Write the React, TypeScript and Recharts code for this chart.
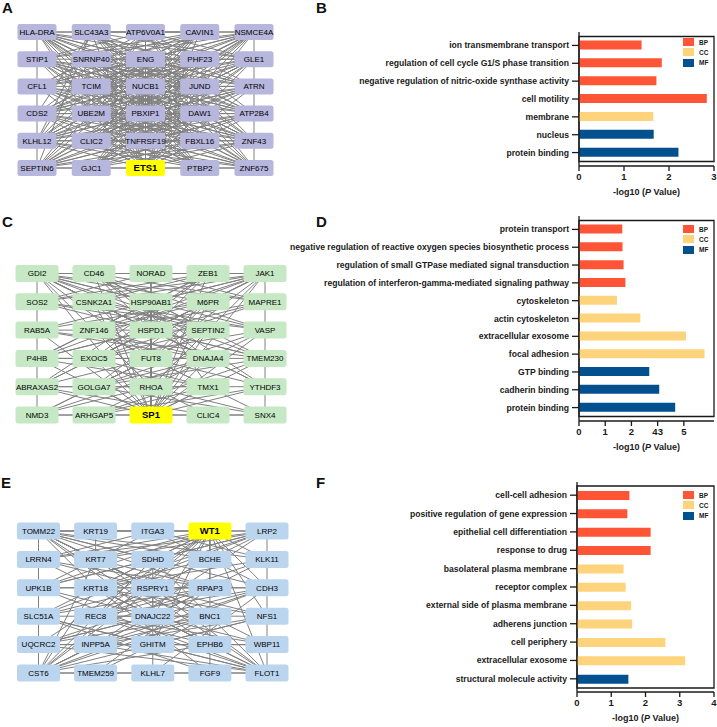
import { ScatterChart, Scatter, XAxis, YAxis, ReferenceLine, ReferenceArea, BarChart, Bar, Cell } from "recharts";

const COLORS: Record<string, string> = { BP: "#ff5436", CC: "#fdd37b", MF: "#02508e" };
const GROUPS = ["BP", "CC", "MF"];

// network A (ETS1)
const genesA = [
  "HLA-DRA", "SLC43A3", "ATP6V0A1", "CAVIN1", "NSMCE4A",
  "STIP1", "SNRNP40", "ENG", "PHF23", "GLE1",
  "CFL1", "TCIM", "NUCB1", "JUND", "ATRN",
  "CDS2", "UBE2M", "PBXIP1", "DAW1", "ATP2B4",
  "KLHL12", "CLIC2", "TNFRSF19", "FBXL16", "ZNF43",
  "SEPTIN6", "GJC1", "ETS1", "PTBP2", "ZNF675",
];
const edgesA = `0-4 0-25 4-29 25-29 0-1 1-2 2-3 3-4 25-26 26-27 27-28 28-29
27-0 27-1 27-2 27-3 27-4 27-5 27-6 27-7 27-8 27-9 27-10 27-11 27-12 27-13 27-14 27-15 27-16 27-17 27-18 27-19 27-20 27-21 27-22 27-23 27-24
0-7 0-8 0-9 0-12 0-13 0-14 0-16 0-17 0-18 0-19 0-22 0-23 0-24 0-28 0-29
1-3 1-9 1-13 1-14 1-15 1-18 1-19 1-20 1-23 1-24 1-25 1-28 1-29
2-5 2-9 2-10 2-14 2-15 2-16 2-18 2-19 2-20 2-24 2-25 2-29
3-5 3-6 3-10 3-11 3-12 3-15 3-16 3-20 3-21 3-25 3-26
4-5 4-6 4-7 4-10 4-11 4-12 4-15 4-16 4-17 4-20 4-21 4-22 4-25 4-26
5-9 5-12 5-13 5-14 5-18 5-19 5-22 5-23 5-24 5-28 5-29
6-9 6-10 6-13 6-14 6-18 6-19 6-20 6-23 6-24 6-28 6-29
7-10 7-11 7-14 7-15 7-16 7-19 7-20 7-24 7-25 7-29
8-10 8-11 8-12 8-15 8-16 8-17 8-20 8-21 8-25 8-26
9-10 9-11 9-15 9-16 9-17 9-20 9-21 9-22 9-25 9-26
10-14 10-18 10-19 10-23 10-24 10-28 10-29
11-14 11-18 11-19 11-23 11-24 11-28 11-29
12-15 12-16 12-18 12-19 12-20 12-24
13-15 13-16 13-20 13-21 13-25 13-26
14-15 14-16 14-17 14-20 14-21 14-25 14-26
15-18 15-19 15-23 15-24 15-28 15-29
16-19 16-23 16-24 16-28 16-29
17-20 17-21 17-23 17-24
18-20 18-21 18-25 18-26
19-20 19-21 19-22 19-25 19-26
20-23 20-24 20-28 20-29
21-24 21-28 21-29
22-25 22-29 23-25 23-26 24-25 24-26`;

// network C (SP1)
const genesC = [
  "GDI2", "CD46", "NORAD", "ZEB1", "JAK1",
  "SOS2", "CSNK2A1", "HSP90AB1", "M6PR", "MAPRE1",
  "RAB5A", "ZNF146", "HSPD1", "SEPTIN2", "VASP",
  "P4HB", "EXOC5", "FUT8", "DNAJA4", "TMEM230",
  "ABRAXAS2", "GOLGA7", "RHOA", "TMX1", "YTHDF3",
  "NMD3", "ARHGAP5", "SP1", "CLIC4", "SNX4",
];
const edgesC = `0-4 0-25 4-29 25-29 0-1 1-2 2-3 3-4 25-26 26-27 27-28 28-29
27-0 27-1 27-2 27-3 27-4 27-6 27-7 27-8 27-10 27-12 27-13 27-14 27-15 27-16 27-17 27-18 27-19 27-20 27-21 27-22 27-23 27-24
0-6 0-7 0-8 0-9 0-12 0-13 0-14 0-17 0-18 0-19 0-22 0-24
4-5 4-6 4-7 4-10 4-11 4-12 4-15 4-16 4-17 4-20 4-22
1-7 1-9 1-12 1-13 1-14 1-18 1-24
3-5 3-6 3-11 3-12 3-15 3-16 3-20
2-5 2-9 2-12 2-17
5-13 5-14 5-19 6-13 6-14 6-17 6-18 7-12 7-15 7-19 7-22 7-23 8-10 8-11 8-16 8-17 8-21
9-11 9-15 9-16 10-13 10-18 10-19 11-17 11-18 11-22 11-23 12-15 12-19 12-20 12-22 12-24
13-16 13-21 13-22 13-25 14-16 14-21 14-26 15-18 15-19 15-23 16-23 16-28 17-20 17-24
17-25 17-29 18-21 18-25 19-21 19-26 20-23 20-24 20-28 21-29 22-25 22-29 23-26 24-26`;

// network E (WT1)
const genesE = [
  "TOMM22", "KRT19", "ITGA3", "WT1", "LRP2",
  "LRRN4", "KRT7", "SDHD", "BCHE", "KLK11",
  "UPK1B", "KRT18", "RSPRY1", "RPAP3", "CDH3",
  "SLC51A", "REC8", "DNAJC22", "BNC1", "NFS1",
  "UQCRC2", "INPP5A", "GHITM", "EPHB6", "WBP11",
  "CST6", "TMEM259", "KLHL7", "FGF9", "FLOT1",
];
const edgesE = `0-4 0-25 4-29 25-29 0-1 1-2 2-3 3-4 25-26 26-27 27-28 28-29 1-6 0-5
3-0 3-5 3-6 3-7 3-8 3-9 3-10 3-11 3-12 3-13 3-14 3-16 3-17 3-19 3-20 3-22 3-25 3-28 3-29
0-6 0-7 0-8 0-9 0-11 0-12 0-13 0-14 0-17 0-18 0-23 0-24
4-5 4-6 4-7 4-10 4-11 4-15 4-16 4-21
25-6 25-7 25-11 25-12 25-13 25-14 25-17 25-18 25-19 25-21 25-23
29-5 29-6 29-7 29-10 29-11 29-12 29-15 29-16 29-20 29-21 29-22
2-5 2-9 2-10 2-14
5-12 5-13 6-12 6-13 6-18 7-10 7-12 7-15 7-16 8-11 8-16 9-11 9-16 9-17 10-11 10-13 10-17
11-14 11-18 11-19 11-23 12-14 12-15 12-17 12-19 13-15 13-16 13-20 14-16 14-20 14-21
15-18 15-22 16-19 16-23 16-24 17-20 17-24 18-20 18-21 19-21 19-22 20-23 20-24 21-24 22-24
26-13 26-18 27-12 27-14 28-11 28-15`;

// GO panel B
const termsB = [
  "ion transmembrane transport",
  "regulation of cell cycle G1/S phase transition",
  "negative regulation of nitric-oxide synthase activity",
  "cell motility",
  "membrane",
  "nucleus",
  "protein binding",
];
const valuesB = [1.39, 1.84, 1.72, 2.84, 1.65, 1.66, 2.21];
const groupsB = ["BP", "BP", "BP", "BP", "CC", "MF", "MF"];
const ticksB = [0, 1, 2, 3];
const tickLabelsB = ["0", "1", "2", "3"];

// GO panel D
const termsD = [
  "protein transport",
  "negative regulation of reactive oxygen species biosynthetic process",
  "regulation of small GTPase mediated signal transduction",
  "regulation of interferon-gamma-mediated signaling pathway",
  "cytoskeleton",
  "actin cytoskeleton",
  "extracellular exosome",
  "focal adhesion",
  "GTP binding",
  "cadherin binding",
  "protein binding",
];
const valuesD = [1.65, 1.66, 1.7, 1.77, 1.45, 2.34, 4.08, 4.79, 2.68, 3.06, 3.67];
const groupsD = ["BP", "BP", "BP", "BP", "CC", "CC", "CC", "CC", "MF", "MF", "MF"];
const ticksD = [0, 1, 2, 3, 4];
const tickLabelsD = ["0", "1", "2", "43", "5"];

// GO panel F
const termsF = [
  "cell-cell adhesion",
  "positive regulation of gene expression",
  "epithelial cell differentiation",
  "response to drug",
  "basolateral plasma membrane",
  "receptor complex",
  "external side of plasma membrane",
  "adherens junction",
  "cell periphery",
  "extracellular exosome",
  "structural molecule activity",
];
const valuesF = [1.53, 1.47, 2.15, 2.15, 1.36, 1.42, 1.58, 1.61, 2.58, 3.16, 1.5];
const groupsF = ["BP", "BP", "BP", "BP", "CC", "CC", "CC", "CC", "CC", "CC", "MF"];
const ticksF = [0, 1, 2, 3, 4];
const tickLabelsF = ["0", "1", "2", "3", "4"];

const INK = "#1a1a1a";

type NetProps = {
  genes: string[];
  hub: string;
  edges: string;
  fill: string;
  left: number;
  top: number;
  width: number;
  height: number;
  margin: { top: number; right: number; bottom: number; left: number };
  boxW: number;
  boxH: number;
};

function Network({ genes, hub, edges, fill, left, top, width, height, margin, boxW, boxH }: NetProps) {
  const nodes = genes.map((name, i) => ({ col: i % 5, row: Math.floor(i / 5), name }));
  const links = edges.trim().split(/\s+/).map((s) => s.split("-").map(Number));
  const axes = [
    <XAxis key="x" type="number" dataKey="col" domain={[0, 4]} hide />,
    <YAxis key="y" type="number" dataKey="row" domain={[0, 5]} reversed hide />,
  ];
  // edges in one chart, node boxes in a second chart laid on top of it
  return (
    <>
      <div style={{ position: "absolute", left, top }}>
        <ScatterChart width={width} height={height} margin={margin}>
          {axes}
          <Scatter data={nodes} isAnimationActive={false} shape={() => <g />} />
          {links.map(([a, b], k) => (
            <ReferenceLine
              key={k}
              segment={[
                { x: nodes[a].col, y: nodes[a].row },
                { x: nodes[b].col, y: nodes[b].row },
              ]}
              stroke="#808080"
              strokeWidth={1}
            />
          ))}
        </ScatterChart>
      </div>
      <div style={{ position: "absolute", left, top }}>
        <ScatterChart width={width} height={height} margin={margin}>
          {axes}
          <Scatter
            data={nodes}
            isAnimationActive={false}
            shape={(p: any) => {
              const isHub = p.payload.name === hub;
              return (
                <g>
                  <rect
                    x={p.cx - boxW / 2}
                    y={p.cy - boxH / 2}
                    width={boxW}
                    height={boxH}
                    rx={2.5}
                    fill={isHub ? "#ffff00" : fill}
                  />
                  <text
                    x={p.cx}
                    y={p.cy}
                    dy="0.36em"
                    textAnchor="middle"
                    fontSize={isHub ? 9.5 : 8}
                    fontWeight={isHub ? 700 : 400}
                    fill="#000"
                  >
                    {p.payload.name}
                  </text>
                </g>
              );
            }}
          />
        </ScatterChart>
      </div>
    </>
  );
}

type GoProps = {
  terms: string[];
  values: number[];
  groups: string[];
  ticks: number[];
  tickLabels: string[];
  xMax: number;
  top: number;
  height: number;
  marginTop: number;
  yWidth: number;
  xHeight: number;
  pad: number;
  legendTop: number;
};

const GO_LEFT = 250;
const GO_WIDTH = 717 - GO_LEFT;

function GoChart(props: GoProps) {
  const { terms, values, groups, ticks, tickLabels, xMax, top, height, marginTop, yWidth, xHeight, pad, legendTop } = props;
  const data = terms.map((term, i) => ({ term, value: values[i], group: groups[i] }));
  return (
    <div style={{ position: "absolute", left: GO_LEFT, top, width: GO_WIDTH, height }}>
      <BarChart
        layout="vertical"
        width={GO_WIDTH}
        height={height}
        data={data}
        margin={{ top: marginTop, right: 3, left: 0, bottom: 0 }}
      >
        <XAxis
          type="number"
          domain={[0, xMax]}
          ticks={ticks}
          tickFormatter={(v: number) => tickLabels[ticks.indexOf(v)]}
          height={xHeight}
          axisLine={{ stroke: INK, strokeWidth: 1.3 }}
          tickLine={{ stroke: INK, strokeWidth: 1.3 }}
          tickSize={5}
          tick={{ fontSize: 9.5, fontWeight: 700, fill: INK }}
          label={(lp: any) => {
            const vb = lp.viewBox || {};
            return (
              <text
                x={(vb.x ?? 0) + (vb.width ?? 0) / 2}
                y={(vb.y ?? 0) + 29}
                textAnchor="middle"
                fontSize={9}
                fontWeight={700}
                fill={INK}
              >
                -log10 (<tspan fontStyle="italic">P</tspan> Value)
              </text>
            );
          }}
        />
        <YAxis
          type="category"
          dataKey="term"
          width={yWidth}
          interval={0}
          tickSize={7}
          padding={{ top: pad, bottom: pad }}
          axisLine={{ stroke: INK, strokeWidth: 1.3 }}
          tickLine={{ stroke: INK, strokeWidth: 1.3 }}
          tick={(tp: any) => (
            <text
              x={tp.x - 1}
              y={tp.y}
              dy="0.35em"
              textAnchor="end"
              fontSize={8.6}
              fontWeight={700}
              fill={INK}
            >
              {tp.payload.value}
            </text>
          )}
        />
        <ReferenceArea x1={0} x2={xMax} fill="none" stroke={INK} strokeWidth={1.3} />
        <Bar dataKey="value" barSize={9} isAnimationActive={false}>
          {data.map((d, i) => (
            <Cell key={i} fill={COLORS[d.group]} />
          ))}
        </Bar>
      </BarChart>
      <div style={{ position: "absolute", left: 683 - GO_LEFT, top: legendTop }}>
        {GROUPS.map((g) => (
          <div key={g} style={{ display: "flex", alignItems: "center", height: 10.3 }}>
            <div style={{ width: 11, height: 8, background: COLORS[g] }} />
            <span style={{ marginLeft: 5, fontSize: 6.5, fontWeight: 700, color: INK }}>{g}</span>
          </div>
        ))}
      </div>
    </div>
  );
}

const letterStyle = {
  position: "absolute" as const,
  fontSize: 15,
  lineHeight: "15px",
  fontWeight: 700,
  color: "#111",
};

export default function App() {
  return (
    <div
      style={{
        position: "absolute",
        left: 0,
        top: 0,
        width: 717,
        height: 727,
        background: "#fff",
        fontFamily: '"Liberation Sans", Arial, sans-serif',
        overflow: "hidden",
      }}
    >
      <Network
        genes={genesA}
        hub="ETS1"
        edges={edgesA}
        fill="#b7b6dc"
        left={0}
        top={0}
        width={290}
        height={200}
        margin={{ top: 32, right: 36, bottom: 32, left: 37 }}
        boxW={39}
        boxH={16}
      />
      <Network
        genes={genesC}
        hub="SP1"
        edges={edgesC}
        fill="#c6e8c4"
        left={0}
        top={230}
        width={290}
        height={210}
        margin={{ top: 43.5, right: 25, bottom: 25, left: 37 }}
        boxW={43}
        boxH={17}
      />
      <Network
        genes={genesE}
        hub="WT1"
        edges={edgesE}
        fill="#bcd5ee"
        left={0}
        top={470}
        width={290}
        height={230}
        margin={{ top: 61, right: 23, bottom: 27, left: 38.5 }}
        boxW={43}
        boxH={17}
      />
      <GoChart
        terms={termsB}
        values={valuesB}
        groups={groupsB}
        ticks={ticksB}
        tickLabels={tickLabelsB}
        xMax={3}
        top={0}
        height={210}
        marginTop={32}
        yWidth={579 - GO_LEFT}
        xHeight={44}
        pad={4.5}
        legendTop={37}
      />
      <GoChart
        terms={termsD}
        values={valuesD}
        groups={groupsD}
        ticks={ticksD}
        tickLabels={tickLabelsD}
        xMax={5.15}
        top={205}
        height={260}
        marginTop={11}
        yWidth={579 - GO_LEFT}
        xHeight={44}
        pad={4.5}
        legendTop={19}
      />
      <GoChart
        terms={termsF}
        values={valuesF}
        groups={groupsF}
        ticks={ticksF}
        tickLabels={tickLabelsF}
        xMax={4}
        top={470}
        height={257}
        marginTop={12}
        yWidth={577 - GO_LEFT}
        xHeight={35}
        pad={4}
        legendTop={20}
      />
      <div style={{ ...letterStyle, left: 2, top: 0 }}>A</div>
      <div style={{ ...letterStyle, left: 316, top: 0 }}>B</div>
      <div style={{ ...letterStyle, left: 2, top: 214 }}>C</div>
      <div style={{ ...letterStyle, left: 316, top: 214 }}>D</div>
      <div style={{ ...letterStyle, left: 1, top: 475 }}>E</div>
      <div style={{ ...letterStyle, left: 316, top: 475 }}>F</div>
    </div>
  );
}
